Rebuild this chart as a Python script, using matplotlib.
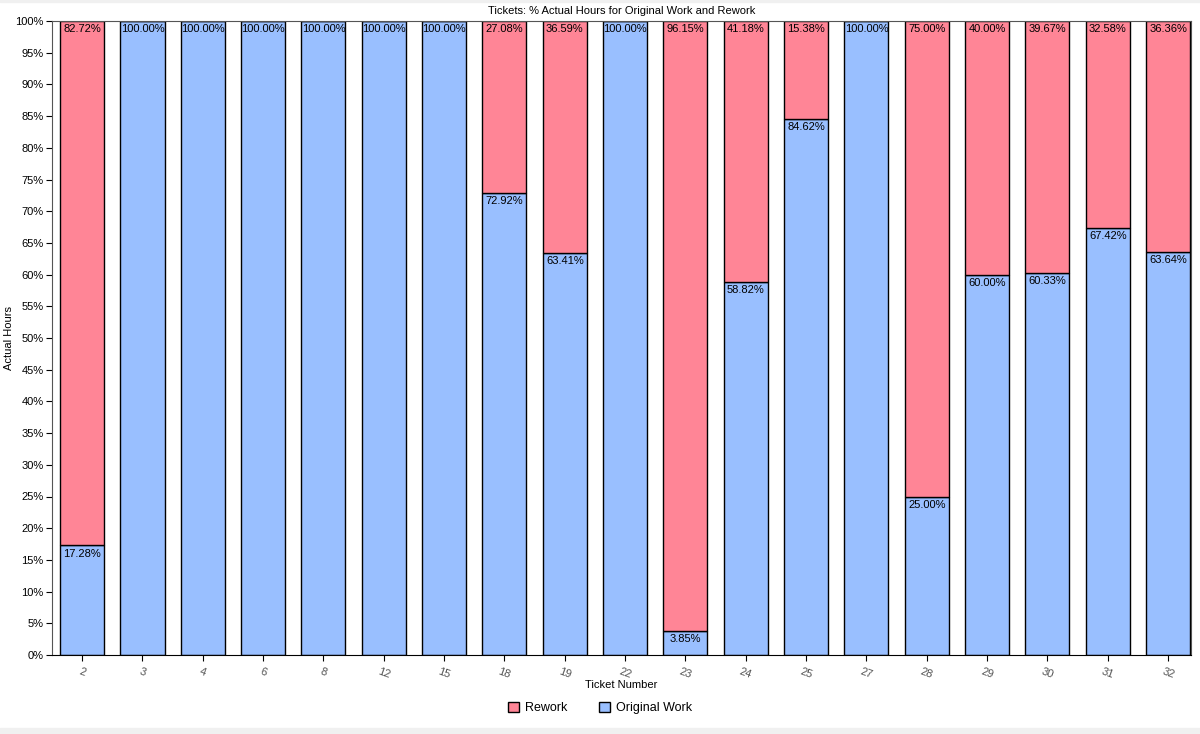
import numpy as np
import matplotlib.pyplot as plt
from matplotlib.patches import Rectangle
from matplotlib.ticker import MultipleLocator, FuncFormatter

plt.rcParams['font.family'] = ['Liberation Sans', 'DejaVu Sans']

tickets = ['2', '3', '4', '6', '8', '12', '15', '18', '19', '22', '23', '24', '25',
           '27', '28', '29', '30', '31', '32']
original = [17.28, 100.00, 100.00, 100.00, 100.00, 100.00, 100.00, 72.92, 63.41, 100.00,
            3.85, 58.82, 84.62, 100.00, 25.00, 60.00, 60.33, 67.42, 63.64]
rework = [82.72, 0, 0, 0, 0, 0, 0, 27.08, 36.59, 0, 96.15, 41.18, 15.38, 0, 75.00,
          40.00, 39.67, 32.58, 36.36]

blue = '#99bfff'
red = '#ff8596'

fig = plt.figure(figsize=(12, 7.34), dpi=100)
ax = fig.add_axes([52 / 1200, 1 - 655 / 734, (1191 - 52) / 1200, (655 - 21) / 734])

x = np.arange(len(tickets))
w = 0.73
ax.bar(x, original, w, color=blue, edgecolor='black', linewidth=1, label='Original Work', zorder=2)
ax.bar(x, rework, w, bottom=original, color=red, edgecolor='black', linewidth=1, label='Rework', zorder=2)

for i in range(len(tickets)):
    ax.text(x[i], original[i] - 0.5, f'{original[i]:.2f}%', ha='center', va='top', fontsize=8, zorder=3)
    if rework[i] > 0:
        ax.text(x[i], 99.5, f'{rework[i]:.2f}%', ha='center', va='top', fontsize=8, zorder=3)

ax.set_xlim(-0.5, 18.38)
ax.set_ylim(0, 100)
ax.yaxis.set_major_locator(MultipleLocator(5))
ax.yaxis.set_major_formatter(FuncFormatter(lambda v, p: f'{v:.0f}%'))
ax.set_xticks(x)
ax.set_xticklabels(tickets, rotation=-20, color='#555555', fontsize=8, ha='center')
ax.tick_params(axis='y', labelsize=8, length=4, pad=2)
ax.tick_params(axis='x', length=4, pad=4)
for s in ax.spines.values():
    s.set_color('#555555')
ax.spines['bottom'].set_color('black')

ax.set_title('Tickets: % Actual Hours for Original Work and Rework', fontsize=8, pad=5)
ax.set_ylabel('Actual Hours', fontsize=8)
ax.yaxis.set_label_coords(-38 / 1139, 0.5)
ax.set_xlabel('Ticket Number', fontsize=8, labelpad=0)

h, l = ax.get_legend_handles_labels()
fig.legend(h[::-1], l[::-1], loc='center', bbox_to_anchor=(600 / 1200, 1 - 708 / 734), ncol=2,
           frameon=False, fontsize=9, handlelength=0.9, handleheight=0.9, columnspacing=2.5,
           handletextpad=0.5)

fig.patches.append(Rectangle((0, 0), 1, 6 / 734, transform=fig.transFigure, color='#f0f0f0', zorder=0))
fig.patches.append(Rectangle((0, 1 - 2 / 734), 1, 2 / 734, transform=fig.transFigure, color='#f0f0f0', zorder=0))

fig.savefig('out.png', dpi=100)
